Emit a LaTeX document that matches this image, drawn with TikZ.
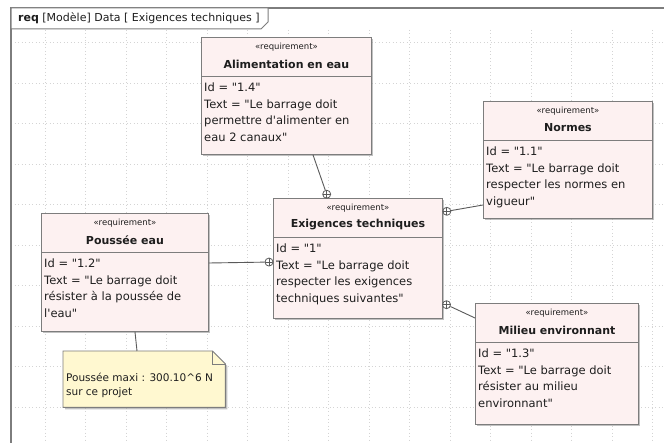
\documentclass[tikz,border=0pt]{standalone}
\usepackage{fontspec}
\setmainfont{DejaVu Sans}[Ligatures=TeXOff]
\usetikzlibrary{calc,shadows}
\definecolor{framegray}{RGB}{125,125,125}
\definecolor{boxline}{RGB}{125,125,125}
\definecolor{reqfill}{RGB}{253,241,241}
\definecolor{notefill}{RGB}{255,248,208}
\definecolor{connline}{RGB}{90,90,90}
\definecolor{gridgray}{RGB}{212,212,212}
\definecolor{textgray}{RGB}{30,30,30}
\tikzset{
  reqbox/.style={draw=boxline, line width=0.9pt, fill=reqfill, inner sep=0pt,
    drop shadow={shadow xshift=1.6pt, shadow yshift=-1.6pt, fill=black!40, opacity=0.6}},
  stereo/.style={font=\fontsize{8.5}{9}\selectfont, inner sep=0pt, text=textgray},
  reqname/.style={font=\fontsize{11}{13}\selectfont\bfseries, inner sep=0pt, text=textgray},
  reqbody/.style={font=\fontsize{11.5}{16.5}\selectfont, inner sep=0pt, align=left, text=textgray},
  divline/.style={draw=boxline, line width=0.9pt},
  conn/.style={draw=connline, line width=0.9pt},
  contain/.style={circle, draw=connline, line width=0.8pt, fill=white, inner sep=0pt, minimum size=8pt,
    path picture={\draw[connline, line width=0.7pt]
      (path picture bounding box.north) -- (path picture bounding box.south)
      (path picture bounding box.west) -- (path picture bounding box.east);}},
  gridline/.style={draw=gridgray, line width=0.5pt, dash pattern=on 1pt off 2.5pt},
  notetext/.style={font=\fontsize{10.5}{13.5}\selectfont, inner sep=0pt, align=left, text=textgray},
  tabtext/.style={font=\fontsize{11}{12}\selectfont, inner sep=0pt, text=textgray},
}
\newcommand{\ReqBox}[7]{%
  \node[reqbox, minimum width=#4, minimum height=#5, anchor=north west] (#1) at (#2,#3) {};
  \node[stereo] (#1s) at ($(#1.north)+(0,10.5)$) {«requirement»};
  \node[reqname] (#1n) at ($(#1.north)+(0,27)$) {#6};
  \draw[divline] ($(#1.north west)+(0,39)$) -- ($(#1.north east)+(0,39)$);
  \node[reqbody, anchor=north west] (#1b) at ($(#1.north west)+(3,46)$) {#7};
}
\begin{document}
\begin{tikzpicture}[x=1pt,y=-1pt]
\useasboundingbox (0,0) rectangle (664,443);
\fill[white] (0,0) rectangle (664,443);
% grid
\foreach \gx in {45,85.5,...,664} {\draw[gridline] (\gx,30) -- (\gx,443);}
\foreach \gy in {42.5,83,...,443} {\draw[gridline] (11,\gy) -- (664,\gy);}
% frame
\draw[framegray, line width=1.2pt] (11,445) -- (11,8) -- (666,8);
\draw[framegray, line width=1pt, fill=white] (11,8) -- (268,8) -- (268,22) -- (261,29) -- (11,29) -- cycle;
\node[tabtext, anchor=west] (tab) at (18,18.5) {\textbf{req} [Modèle] Data [ Exigences techniques ]};
% requirements
\ReqBox{A}{201}{37}{170}{117}{Alimentation en eau}{Id = "1.4"\\Text = "Le barrage doit\\permettre d'alimenter en\\eau 2 canaux"}
\ReqBox{N}{483}{101}{169}{117}{Normes}{Id = "1.1"\\Text = "Le barrage doit\\respecter les normes en\\vigueur"}
\ReqBox{E}{273}{198}{169}{120}{Exigences techniques}{Id = "1"\\Text = "Le barrage doit\\respecter les exigences\\techniques suivantes"}
\ReqBox{P}{41}{213}{167}{118}{Poussée eau}{Id = "1.2"\\Text = "Le barrage doit\\résister à la poussée de\\l'eau"}
\ReqBox{M}{475}{303}{163}{121}{Milieu environnant}{Id = "1.3"\\Text = "Le barrage doit\\résister au milieu\\environnant"}
% note
\node[minimum width=162, minimum height=56, inner sep=0pt, anchor=north west] (note) at (63,351) {};
\fill[black!40, opacity=0.6] ($(note.north west)+(2,2)$) -- ($(note.north east)+(-11,2)$) -- ($(note.north east)+(2,15)$) -- ($(note.south east)+(2,2)$) -- ($(note.south west)+(2,2)$) -- cycle;
\filldraw[draw=boxline, line width=0.9pt, fill=notefill] (note.north west) -- ($(note.north east)+(-13,0)$) -- ($(note.north east)+(0,13)$) -- (note.south east) -- (note.south west) -- cycle;
\draw[boxline, line width=0.7pt] ($(note.north east)+(-13,0)$) -- ($(note.north east)+(-13,13)$) -- ($(note.north east)+(0,13)$);
\node[notetext, anchor=west] (notet) at (66,385.5) {Poussée maxi : 300.10\^{}6 N\\sur ce projet};
\draw[conn] (P.south -| 135,0) -- (note.north -| 137,0);
% containment connectors
\coordinate (sA) at (A.south -| 313,0);
\coordinate (tA) at (E.north -| 328,0);
\coordinate (sN) at (N.west |- 0,205);
\coordinate (tN) at (E.east |- 0,212);
\coordinate (sP) at (P.east |- 0,263);
\coordinate (tP) at (E.west |- 0,262);
\coordinate (sM) at (M.west |- 0,318);
\coordinate (tM) at (E.east |- 0,303);
\foreach \k in {A,N,P,M} {
  \node[contain] (c\k) at ($(t\k)!4pt!(s\k)$) {};
  \draw[conn] (s\k) -- (c\k);
}
\end{tikzpicture}
\end{document}
